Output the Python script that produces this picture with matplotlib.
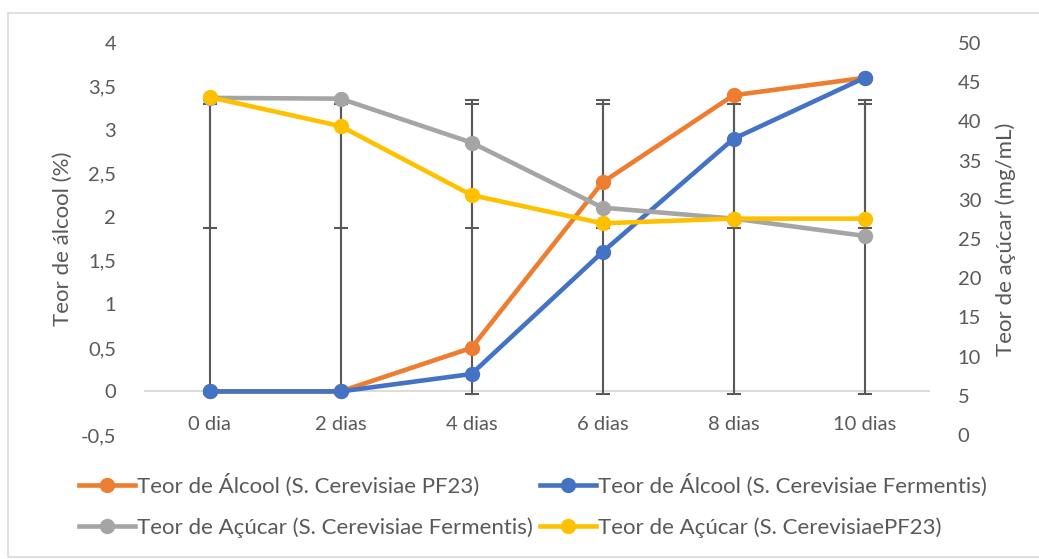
import numpy as np
import matplotlib.pyplot as plt
from matplotlib.patches import Rectangle

plt.rcParams['font.family'] = ['Lato', 'DejaVu Sans']

dias = ['0 dia', '2 dias', '4 dias', '6 dias', '8 dias', '10 dias']
alcool_pf23 = [0, 0, 0.5, 2.4, 3.4, 3.6]
alcool_fermentis = [0, 0, 0.2, 1.6, 2.9, 3.6]
acucar_fermentis = [43.0, 42.9, 37.3, 29.0, 27.6, 25.4]
acucar_pf23 = [43.1, 39.4, 30.6, 27.0, 27.6, 27.6]

# error bars (left axis units)
err_mid = [1.88] * 6
err_low = [-0.03] * 6
err_top_a = [3.30] * 6
err_top_b = [3.34] * 6

cinza = '#595959'
x = np.arange(len(dias))

fig = plt.figure(figsize=(10.39, 5.59), dpi=100)
fig.patches.append(Rectangle((8/1039, 2/559), 1.1, 1 - 15/559, transform=fig.transFigure,
                             fill=False, edgecolor='#d9d9d9', lw=1.2))

ax = fig.add_axes([144/1039, 1 - 435/559, 786/1039, 392/559])
ax.axhline(0, color='#d9d9d9', lw=1.3, zorder=0)

mid = np.array(err_mid)
ax.errorbar(x, mid, yerr=[mid - np.array(err_low), np.array(err_top_a) - mid], fmt='none',
            ecolor=cinza, elinewidth=1.5, capsize=5, capthick=1.5, zorder=1)
ax.errorbar(x, mid, yerr=[np.zeros(6), np.array(err_top_b) - mid], fmt='none',
            ecolor=cinza, elinewidth=1.5, capsize=5, capthick=1.5, zorder=1)

l1, = ax.plot(x, alcool_pf23, color='#ED7D31', lw=3.3, marker='o', ms=10, zorder=3,
              label='Teor de Álcool (S. Cerevisiae PF23)')
l2, = ax.plot(x, alcool_fermentis, color='#4472C4', lw=3.3, marker='o', ms=10, zorder=3,
              label='Teor de Álcool (S. Cerevisiae Fermentis)')

ax.set_xlim(-0.5, 5.5)
ax.set_ylim(-0.5, 4)
ax.set_yticks(np.arange(-0.5, 4.01, 0.5))
ax.set_yticklabels([('%g' % v).replace('.', ',') for v in np.arange(-0.5, 4.01, 0.5)])
ax.set_xticks(x)
ax.set_xticklabels(dias)
ax.tick_params(axis='x', length=0, pad=-14, labelsize=14.5, colors=cinza)
ax.tick_params(axis='y', length=0, pad=20, labelsize=14.5, colors=cinza)
for s in ax.spines.values():
    s.set_visible(False)
ax.set_ylabel('Teor de álcool (%)', fontsize=16, color=cinza, labelpad=6)

ax2 = ax.twinx()
l3, = ax2.plot(x, acucar_fermentis, color='#A5A5A5', lw=3.3, marker='o', ms=10,
               label='Teor de Açúcar (S. Cerevisiae Fermentis)')
l4, = ax2.plot(x, acucar_pf23, color='#FFC000', lw=3.3, marker='o', ms=10,
               label='Teor de Açúcar (S. CerevisiaePF23)')
ax2.set_ylim(0, 50)
ax2.set_yticks(np.arange(0, 51, 5))
ax2.tick_params(axis='y', length=0, pad=20, labelsize=14.5, colors=cinza)
for s in ax2.spines.values():
    s.set_visible(False)
ax2.set_ylabel('Teor de açúcar (mg/mL)', fontsize=16, color=cinza, labelpad=10)

fig.legend(handles=[l1, l3, l2, l4], ncol=2, loc='upper left', bbox_to_anchor=(79/1039, 1 - 474/559),
           frameon=False, fontsize=16, borderpad=0, borderaxespad=0, handlelength=2.5,
           handletextpad=0.1, columnspacing=0.35, labelspacing=0.9, labelcolor=cinza)

fig.savefig('out.png', dpi=100)
